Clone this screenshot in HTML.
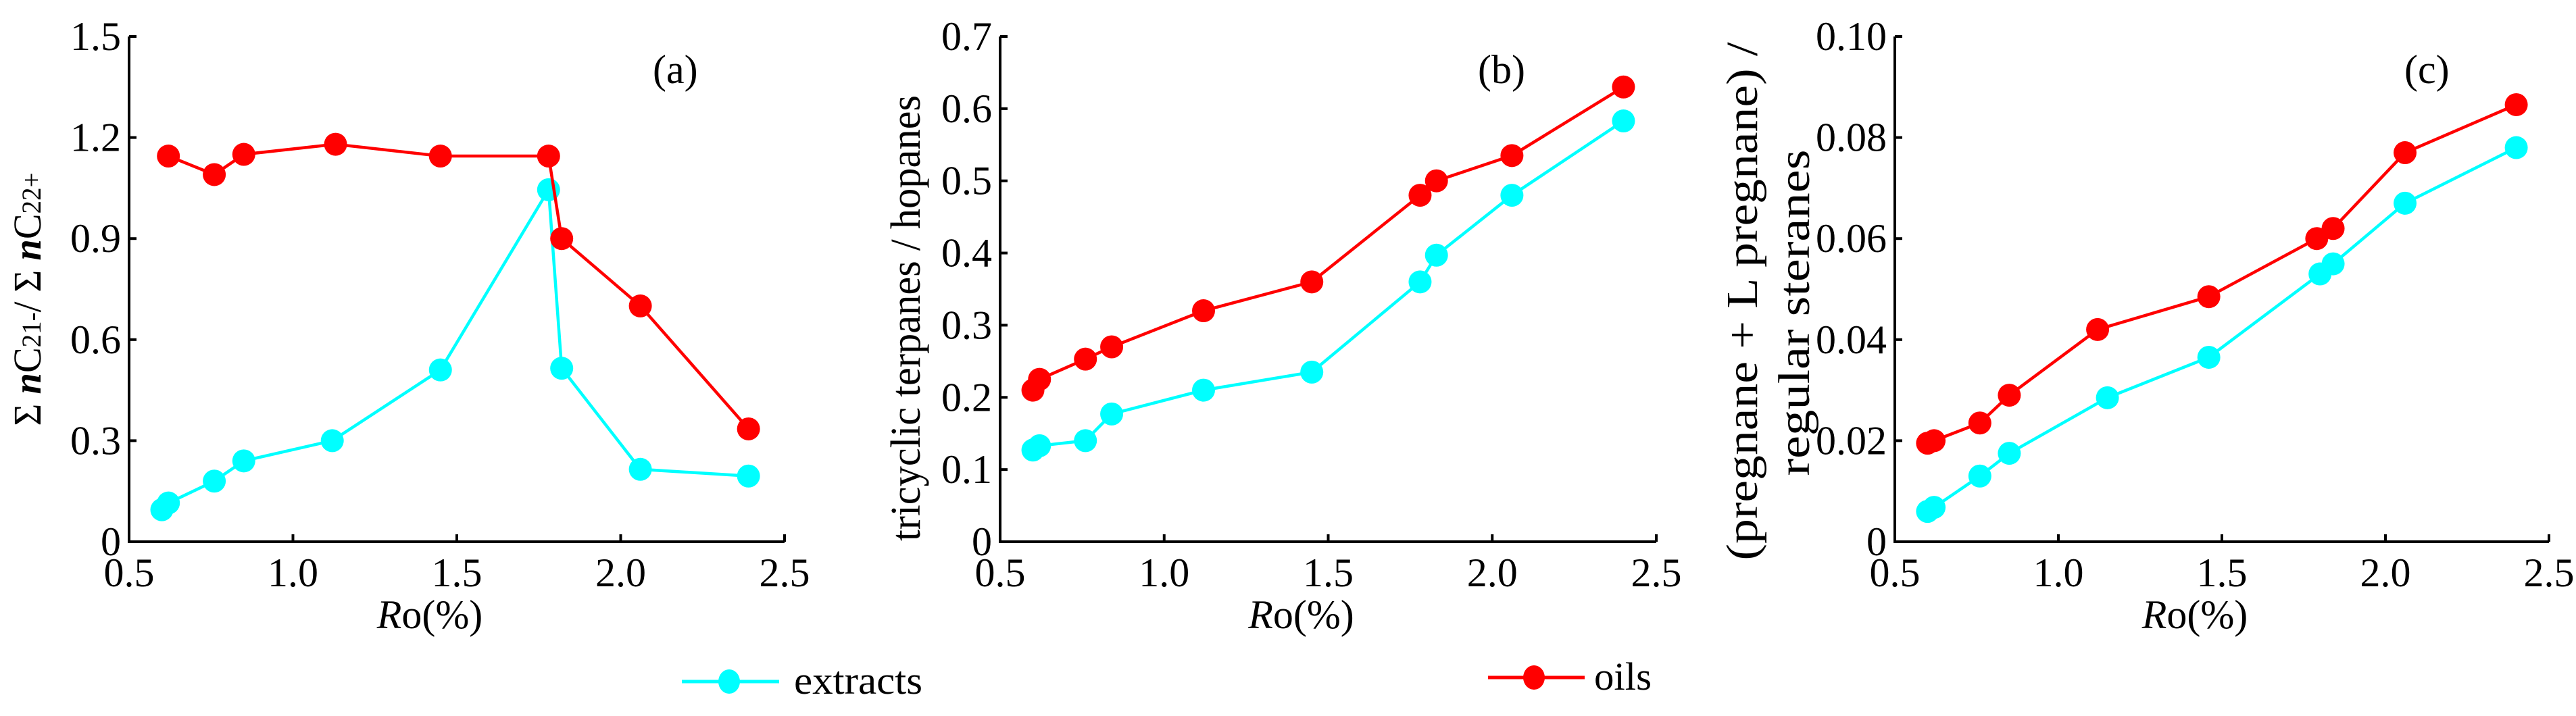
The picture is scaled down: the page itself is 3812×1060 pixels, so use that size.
<!DOCTYPE html>
<html><head><meta charset="utf-8"><style>
html,body{margin:0;padding:0;background:#fff}
svg, svg text{font-family:"Liberation Serif","Times New Roman",serif}
</style></head><body>
<svg id="chart" width="3812" height="1055" viewBox="0 0 3812 1055" xmlns="http://www.w3.org/2000/svg" font-family="Liberation Serif, serif">
<g id="panels" font-family="Liberation Serif, serif"></g>
<g font-family="Liberation Serif, serif">
  <g>
    <line x1="1009" y1="1009" x2="1153" y2="1009" stroke="#00ffff" stroke-width="5"/>
    <ellipse cx="1079" cy="1009" rx="16" ry="18" fill="#00ffff"/>
    <text x="1175" y="1027" font-size="58" font-family="Liberation Serif, serif" textLength="190" lengthAdjust="spacingAndGlyphs">extracts</text>
  </g>
  <g>
    <line x1="2202" y1="1003" x2="2345" y2="1003" stroke="#ff0000" stroke-width="5"/>
    <ellipse cx="2270" cy="1003" rx="16" ry="18" fill="#ff0000"/>
    <text x="2359" y="1021" font-size="58" font-family="Liberation Serif, serif" textLength="85" lengthAdjust="spacingAndGlyphs">oils</text>
  </g>
</g>
</svg>
<script>
const ticksX = [0.5, 1.0, 1.5, 2.0, 2.5];
const tickLabelsX = ["0.5", "1.0", "1.5", "2.0", "2.5"];

const aTicksY = [0, 0.3, 0.6, 0.9, 1.2, 1.5];
const aTickLabels = ["0", "0.3", "0.6", "0.9", "1.2", "1.5"];
const aOilsX = [0.62, 0.76, 0.85, 1.13, 1.45, 1.78, 1.82, 2.06, 2.39];
const aOilsY = [1.145, 1.09, 1.15, 1.18, 1.145, 1.145, 0.90, 0.70, 0.335];
const aExtX = [0.60, 0.62, 0.76, 0.85, 1.12, 1.45, 1.78, 1.82, 2.06, 2.39];
const aExtY = [0.095, 0.115, 0.18, 0.24, 0.30, 0.51, 1.045, 0.515, 0.215, 0.195];

const bTicksY = [0, 0.1, 0.2, 0.3, 0.4, 0.5, 0.6, 0.7];
const bTickLabels = ["0", "0.1", "0.2", "0.3", "0.4", "0.5", "0.6", "0.7"];
const bOilsX = [0.60, 0.62, 0.76, 0.84, 1.12, 1.45, 1.78, 1.83, 2.06, 2.40];
const bOilsY = [0.21, 0.225, 0.253, 0.27, 0.32, 0.36, 0.48, 0.50, 0.535, 0.63];
const bExtX = [0.60, 0.62, 0.76, 0.84, 1.12, 1.45, 1.78, 1.83, 2.06, 2.40];
const bExtY = [0.127, 0.133, 0.14, 0.177, 0.21, 0.235, 0.36, 0.397, 0.48, 0.583];

const cTicksY = [0, 0.02, 0.04, 0.06, 0.08, 0.10];
const cTickLabels = ["0", "0.02", "0.04", "0.06", "0.08", "0.10"];
const cOilsX = [0.60, 0.62, 0.76, 0.85, 1.12, 1.46, 1.79, 1.84, 2.06, 2.40];
const cOilsY = [0.0195, 0.020, 0.0235, 0.029, 0.042, 0.0485, 0.060, 0.062, 0.077, 0.0865];
const cExtX = [0.60, 0.62, 0.76, 0.85, 1.15, 1.46, 1.80, 1.84, 2.06, 2.40];
const cExtY = [0.006, 0.0068, 0.013, 0.0175, 0.0285, 0.0365, 0.053, 0.055, 0.067, 0.078];

const NS = "http://www.w3.org/2000/svg";
const FONT = "Liberation Serif, serif";
const root = document.getElementById("panels");
function mk(tag, attrs, parent) {
  const e = document.createElementNS(NS, tag);
  for (const k in attrs) e.setAttribute(k, attrs[k]);
  if (tag === "text") e.setAttribute("font-family", FONT);
  parent.appendChild(e);
  return e;
}

function panel(id, x0, x1, yMax, ticksY, tickLabels, oilsX, oilsY, extX, extY, letter, letterX) {
  const top = 54, bot = 802;
  const sx = v => x0 + (v - 0.5) / 2.0 * (x1 - x0);
  const sy = v => bot - v / yMax * (bot - top);
  const g = mk("g", {}, root);
  
  
  const ax = mk("path", {d: `M${x0} ${top} L${x0} ${bot} L${x1} ${bot}`, fill: "none", stroke: "#000", "stroke-width": 4}, g);
  
  
  ticksY.forEach((v, i) => {
    const t = mk("line", {x1: x0, x2: x0 + 11, y1: sy(v), y2: sy(v), stroke: "#000", "stroke-width": 4}, g);
    
    
    const l = mk("text", {x: x0 - 12, y: sy(v) + 20, "font-size": 60, "text-anchor": "end"}, g);
    l.textContent = tickLabels[i];
    
    
  });
  ticksX.forEach((v, i) => {
    if (i > 0) {
      const t = mk("line", {x1: sx(v), x2: sx(v), y1: bot, y2: bot - 11, stroke: "#000", "stroke-width": 4}, g);
      
      
    }
    const l = mk("text", {x: sx(v), y: 868, "font-size": 60, "text-anchor": "middle"}, g);
    l.textContent = tickLabelsX[i];
    
    
  });
  const xl = mk("text", {x: (x0 + x1) / 2 - 40, y: 930, "font-size": 60, "text-anchor": "middle"}, g);
  xl.innerHTML = '<tspan font-style="italic">R</tspan>o(%)';
  
  
  const lt = mk("text", {x: letterX, y: 123, "font-size": 60}, g);
  lt.textContent = "(" + letter + ")";
  
  
  [[extX, extY, "#00ffff", "extracts"], [oilsX, oilsY, "#ff0000", "oils"]].forEach(([xs, ys, col, nm]) => {
    const pts = xs.map((v, i) => sx(v) + "," + sy(ys[i])).join(" ");
    const pl = mk("polyline", {points: pts, fill: "none", stroke: col, "stroke-width": 4.5}, g);
    
    
    xs.forEach((v, i) => {
      const c = mk("ellipse", {cx: sx(v), cy: sy(ys[i]), rx: 17, ry: 17, fill: col}, g);
      
      
    });
  });
  return g;
}

const ga = panel("a", 191, 1161, 1.5, aTicksY, aTickLabels, aOilsX, aOilsY, aExtX, aExtY, "a", 966);
const gb = panel("b", 1480, 2451, 0.7, bTicksY, bTickLabels, bOilsX, bOilsY, bExtX, bExtY, "b", 2187);
const gc = panel("c", 2804, 3772, 0.10, cTicksY, cTickLabels, cOilsX, cOilsY, cExtX, cExtY, "c", 3558);

let t = mk("text", {transform: "translate(60,443) rotate(-90)", "font-size": 58, "text-anchor": "middle", textLength: 375, lengthAdjust: "spacingAndGlyphs"}, ga);
t.innerHTML = 'Σ <tspan font-weight="bold" font-style="italic">n</tspan>C<tspan font-size="40">21-</tspan>/ Σ <tspan font-weight="bold" font-style="italic">n</tspan>C<tspan font-size="40">22+</tspan>';



t = mk("text", {transform: "translate(1361,471) rotate(-90)", "font-size": 62, "text-anchor": "middle", textLength: 660, lengthAdjust: "spacingAndGlyphs"}, gb);
t.textContent = "tricyclic terpanes / hopanes";



t = mk("text", {transform: "translate(2600,446) rotate(-90)", "font-size": 66, "text-anchor": "middle", textLength: 767, lengthAdjust: "spacingAndGlyphs"}, gc);
t.textContent = "(pregnane + L pregnane) /";


t = mk("text", {transform: "translate(2677,463) rotate(-90)", "font-size": 66, "text-anchor": "middle", textLength: 483, lengthAdjust: "spacingAndGlyphs"}, gc);
t.textContent = "regular steranes";


</script>
</body></html>
